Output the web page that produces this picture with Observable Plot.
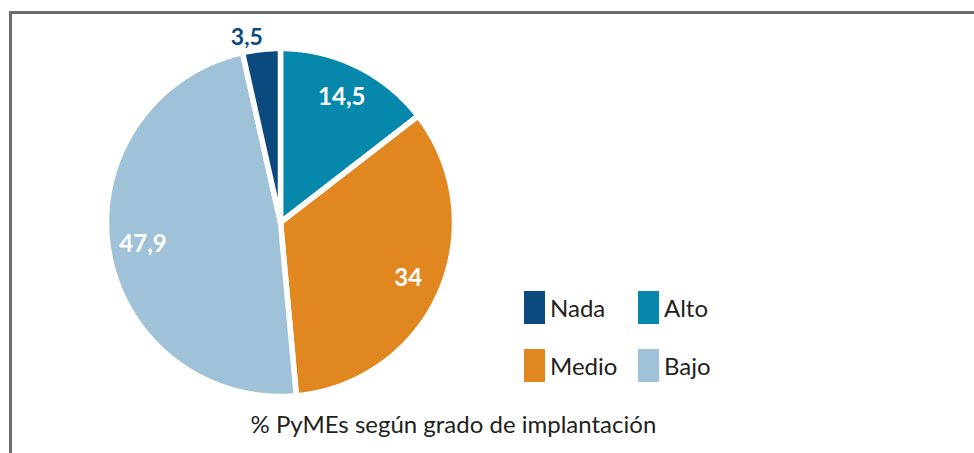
<!DOCTYPE html>
<html><head><meta charset="utf-8">
<script src="https://cdn.jsdelivr.net/npm/d3@7"></script>
<script src="https://cdn.jsdelivr.net/npm/@observablehq/plot@0.6"></script>
<style>
body{margin:0;background:#fff;overflow:hidden}
#wrap{position:relative;width:974px;height:453px;font-family:Lato,"Open Sans",sans-serif}
#wrap svg{position:absolute;left:0;top:0}
#frame{position:absolute;left:9px;top:11px;width:990px;height:470px;border-left:3px solid #6e6e6e;border-top:3px solid #6e6e6e;}
#legend{position:absolute;left:524px;top:291px;display:grid;grid-template-columns:114px 114px;row-gap:25px}
.item{display:flex;align-items:center;height:33px;font-size:24px;color:#231f20;font-family:Lato,sans-serif}
.sw{width:21px;height:33px;margin-right:5px;flex:none}
</style></head><body>
<div id="wrap"><div id="frame"></div></div>
<script>
// ---- data ----
const categories = ["Nada", "Alto", "Medio", "Bajo"];     // legend order
const values     = [3.5, 14.5, 34, 47.9];                 // % PyMEs
const valueLabels = ["3,5", "14,5", "34", "47,9"];
const colors     = ["#0b4a7f", "#0688ac", "#e1871f", "#9fc2d8"];
const pieOrder   = ["Alto", "Medio", "Bajo", "Nada"];     // clockwise from 12 o'clock
const caption    = "% PyMEs según grado de implantación";

// ---- layout ----
const W = 974, H = 453, cx = 280, cy = 222, R = 174;

const rows = pieOrder.map(c => {
  const i = categories.indexOf(c);
  return {cat: c, value: values[i], label: valueLabels[i]};
});
const arcs = d3.pie().sort(null).value(d => d.value)(rows);

// polygon points (unit radius) for each slice
const pts = [];
for (const a of arcs) {
  const n = Math.max(4, Math.ceil((a.endAngle - a.startAngle) / (Math.PI / 360)));
  pts.push({cat: a.data.cat, x: 0, y: 0});
  for (let k = 0; k <= n; k++) {
    const t = a.startAngle + (a.endAngle - a.startAngle) * k / n;
    pts.push({cat: a.data.cat, x: Math.sin(t), y: -Math.cos(t)});
  }
  pts.push({cat: a.data.cat, x: 0, y: 0});
}

const lab = arcs.map(a => {
  const m = (a.startAngle + a.endAngle) / 2;
  const small = a.data.value < 5;
  const r = small ? 1.08 : 0.8;
  return {cat: a.data.cat, text: a.data.label, small, x: r * Math.sin(m), y: -r * Math.cos(m)};
});

const plot = Plot.plot({
  width: W, height: H,
  margin: 0,
  x: {domain: [-cx / R, (W - cx) / R], range: [0, W], axis: null},
  y: {domain: [-cy / R, (H - cy) / R], range: [0, H], axis: null},
  color: {domain: categories, range: colors},
  style: {background: "transparent", overflow: "visible"},
  marks: [
    Plot.line(pts, {x: "x", y: "y", z: "cat", fill: "cat", stroke: "white", strokeWidth: 5.5, strokeLinejoin: "round"}),
    Plot.text(lab.filter(d => !d.small), {x: "x", y: "y", text: "text", fill: "white",
      fontSize: 24, fontWeight: 700, fontFamily: "Lato, sans-serif"}),
    Plot.text(lab.filter(d => d.small), {x: "x", y: "y", text: "text", fill: "cat", dx: -13, dy: 2,
      fontSize: 23, fontWeight: 700, fontFamily: "Lato, sans-serif"}),
    Plot.text([caption], {frameAnchor: "bottom-left", dx: 250, dy: -21, textAnchor: "start", lineAnchor: "bottom",
      fontSize: 24, fill: "#231f20", fontFamily: "Lato, sans-serif"})
  ]
});
const wrap = document.getElementById("wrap");
wrap.appendChild(plot);

// legend (HTML, colours from the plot's color scale)
const colorScale = plot.scale("color");
const leg = document.createElement("div");
leg.id = "legend";
for (const c of categories) {
  const it = document.createElement("div");
  it.className = "item";
  const sw = document.createElement("span");
  sw.className = "sw";
  sw.style.background = colorScale.apply(c);
  const tx = document.createElement("span");
  tx.textContent = c;
  it.appendChild(sw); it.appendChild(tx);
  leg.appendChild(it);
}
wrap.appendChild(leg);
</script>
</body></html>
